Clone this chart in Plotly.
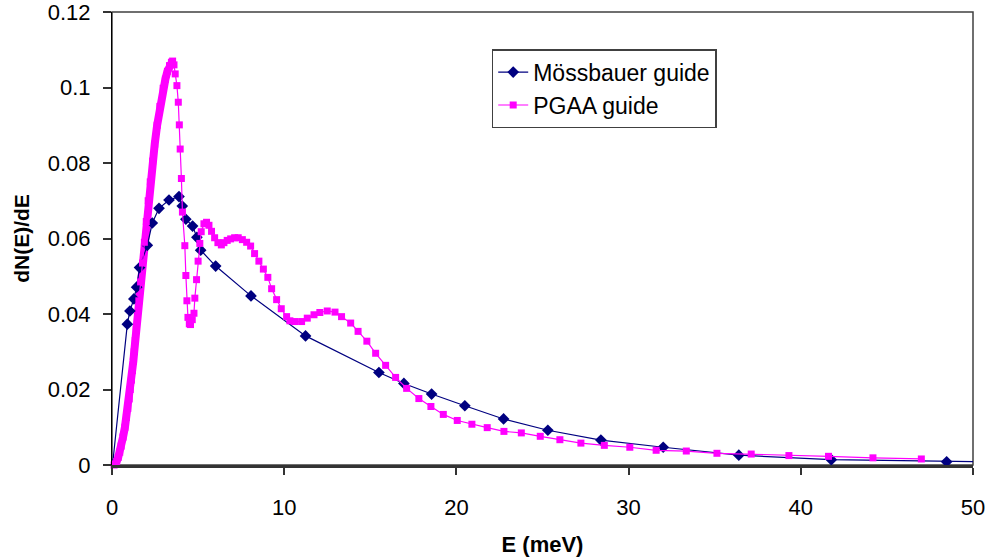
import plotly.graph_objects as go

# Mössbauer guide spectrum: energy (meV) and dN(E)/dE
moss_e = [0.03, 0.89, 1.04, 1.27, 1.43, 1.60, 2.05, 2.34, 2.73, 3.31, 3.89, 4.08, 4.29,
          4.68, 4.93, 5.15, 6.02, 8.07, 11.24, 15.50, 16.95, 18.56, 20.49, 22.74,
          25.31, 28.39, 32.01, 36.40, 41.77, 48.47, 56.0]
moss_v = [0.0, 0.0373, 0.0408, 0.0440, 0.0471, 0.0523, 0.0582, 0.0641, 0.0680, 0.0702,
          0.0711, 0.0686, 0.0651, 0.0633, 0.0603, 0.0569, 0.0527, 0.0448, 0.0342,
          0.0245, 0.0216, 0.0188, 0.0157, 0.0122, 0.0092, 0.0066, 0.0047, 0.0026,
          0.0014, 0.00085, 0.0005]

# PGAA guide spectrum: dense rising edge up to the peak
pgaa_rise_e = [0.12, 0.19, 0.27, 0.36, 0.45, 0.53, 0.64, 0.75, 0.84, 0.92, 1.00, 1.06,
               1.13, 1.19, 1.24, 1.29, 1.35, 1.41, 1.48, 1.56, 1.66, 1.77, 1.88, 1.99,
               2.10, 2.22, 2.36, 2.48, 2.62, 2.78, 2.97, 3.10, 3.22, 3.34, 3.45, 3.52]
pgaa_rise_v = [0.0, 0.0003, 0.0009, 0.0020, 0.0034, 0.0050, 0.0074, 0.0100, 0.0126,
               0.0150, 0.0175, 0.0200, 0.0225, 0.0250, 0.0275, 0.0300, 0.0330, 0.0360,
               0.0395, 0.0435, 0.0485, 0.0535, 0.0590, 0.0645, 0.0700, 0.0750, 0.0805,
               0.0850, 0.0900, 0.0950, 0.0998, 0.1022, 0.1043, 0.1058, 0.1067, 0.1070]

# PGAA guide spectrum: from the peak out to the tail
pgaa_tail_e = [3.60, 3.67, 3.77, 3.85, 3.91, 3.96, 4.03, 4.09, 4.23, 4.29, 4.35, 4.41,
               4.49, 4.56, 4.66, 4.76, 4.81, 4.91, 5.00, 5.10, 5.18, 5.34, 5.49, 5.63,
               5.78, 5.96, 6.15, 6.35, 6.50, 6.69, 6.89, 7.12, 7.33, 7.57, 7.82, 8.05,
               8.28, 8.53, 8.79, 9.05, 9.27, 9.56, 9.83, 10.14, 10.33, 10.60, 11.01,
               11.34, 11.73, 12.07, 12.50, 12.95, 13.33, 13.86, 14.29, 14.80, 15.31,
               15.89, 16.47, 17.11, 17.82, 18.52, 19.24, 20.05, 20.90, 21.79, 22.76,
               23.77, 24.87, 26.01, 27.23, 28.59, 30.07, 31.60, 33.35, 35.13, 37.12,
               39.31, 41.61, 44.19, 47.00]
pgaa_tail_v = [0.1060, 0.1036, 0.1005, 0.0961, 0.0901, 0.0837, 0.0759, 0.0670, 0.0581,
               0.0502, 0.0435, 0.0391, 0.0374, 0.0372, 0.0385, 0.0402, 0.0442, 0.0491,
               0.0540, 0.0587, 0.0618, 0.0639, 0.0643, 0.0635, 0.0619, 0.0602, 0.0589,
               0.0583, 0.0589, 0.0595, 0.0599, 0.0602, 0.0602, 0.0597, 0.0590, 0.0580,
               0.0560, 0.0540, 0.0519, 0.0497, 0.0467, 0.0438, 0.0414, 0.0393, 0.0382,
               0.0380, 0.0380, 0.0389, 0.0398, 0.0404, 0.0408, 0.0405, 0.0393, 0.0376,
               0.0354, 0.0328, 0.0296, 0.0264, 0.0232, 0.0203, 0.0176, 0.0155, 0.0134,
               0.0118, 0.0108, 0.0099, 0.0089, 0.0085, 0.0076, 0.0067, 0.0058, 0.0052,
               0.0047, 0.0039, 0.0037, 0.0031, 0.0029, 0.0025, 0.0023, 0.0019, 0.0016]

x_ticks = [0, 10, 20, 30, 40, 50]
y_ticks = [0, 0.02, 0.04, 0.06, 0.08, 0.10, 0.12]
y_tick_text = ["0", "0.02", "0.04", "0.06", "0.08", "0.1", "0.12"]

NAVY = "#000080"
MAGENTA = "#FF00FF"
FONT = "Arial, 'Liberation Sans', sans-serif"

pgaa_e = pgaa_rise_e + pgaa_tail_e
pgaa_v = pgaa_rise_v + pgaa_tail_v

fig = go.Figure()

# the rising edge is sampled so densely that its markers merge into a solid band
fig.add_trace(go.Scatter(
    x=pgaa_rise_e, y=pgaa_rise_v, mode="lines",
    line=dict(color=MAGENTA, width=8),
    showlegend=False, hoverinfo="skip", cliponaxis=False,
))

fig.add_trace(go.Scatter(
    x=moss_e, y=moss_v, mode="lines+markers", name="Mössbauer guide",
    line=dict(color=NAVY, width=1.2),
    marker=dict(symbol="diamond", size=9, color=NAVY),
    cliponaxis=True,
))

fig.add_trace(go.Scatter(
    x=pgaa_e, y=pgaa_v, mode="lines+markers", name="PGAA guide",
    line=dict(color=MAGENTA, width=1.2),
    marker=dict(symbol="square", size=7, color=MAGENTA),
    cliponaxis=False,
))

# plot-area frame (top and right edges)
fig.add_shape(type="rect", xref="paper", yref="paper", x0=0, x1=1, y0=0, y1=1,
              line=dict(color="#404040", width=1.5), layer="below")

fig.update_layout(
    template="none",
    width=988, height=558, autosize=False,
    margin=dict(l=112, r=15, t=12, b=93, pad=0),
    paper_bgcolor="white", plot_bgcolor="white",
    font=dict(family=FONT, size=22, color="black"),
    showlegend=True,
    legend=dict(
        x=0.441, y=0.918, xanchor="left", yanchor="top",
        bgcolor="white", bordercolor="#404040", borderwidth=1.5,
        font=dict(family=FONT, size=23, color="black"),
        itemwidth=30, traceorder="normal",
    ),
    xaxis=dict(
        range=[0, 50], tickvals=x_ticks, ticktext=[str(v) for v in x_ticks],
        ticks="outside", ticklen=7, tickwidth=1.5, tickcolor="#333333",
        showline=True, linecolor="#333333", linewidth=2.5,
        showgrid=False, zeroline=False, ticklabelstandoff=14, automargin=False,
        ticklabeloverflow="allow",
        title=dict(text="<b>E (meV)</b>", font=dict(family=FONT, size=22), standoff=18),
    ),
    yaxis=dict(
        range=[0, 0.12], tickvals=y_ticks, ticktext=y_tick_text,
        ticks="outside", ticklen=8, tickwidth=1.5, tickcolor="#333333",
        showline=True, linecolor="black", linewidth=1.2,
        showgrid=False, zeroline=False, ticklabelstandoff=8, automargin=False,
        ticklabeloverflow="allow",
        title=dict(text="<b>dN(E)/dE</b>", font=dict(family=FONT, size=21), standoff=12),
    ),
)

fig.write_html("out.html")
